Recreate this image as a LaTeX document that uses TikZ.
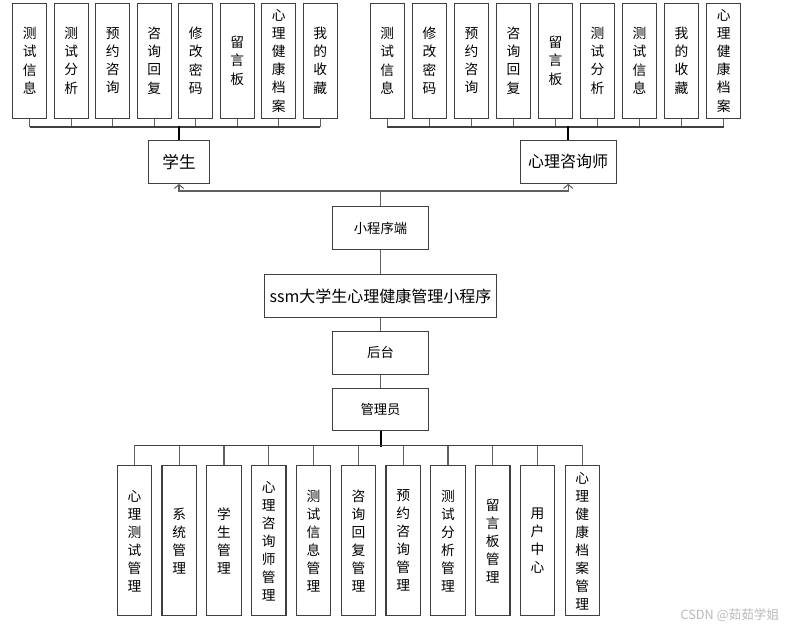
\documentclass[tikz,border=0pt]{standalone}
\usepackage{fontspec}
\setmainfont{Noto Sans CJK SC}
\usetikzlibrary{arrows.meta,calc}
\definecolor{boxc}{HTML}{404040}
\definecolor{linec}{HTML}{606060}
\tikzset{
  box/.style={draw=boxc, line width=0.8pt, fill=white, inner sep=0pt, align=center},
  vbox/.style={box, minimum width=25.5pt, minimum height=86pt, font=\fontsize{10.3pt}{13.6pt}\selectfont},
  bbox/.style={box, minimum width=25.8pt, minimum height=112.3pt, font=\fontsize{10.3pt}{13.5pt}\selectfont},
  conn/.style={draw=linec, line width=0.8pt},
  bus/.style={draw=black!75, line width=1.2pt},
  trunk/.style={draw=black, line width=1.5pt},
  tip/.style={-{Straight Barb[length=3pt,width=7pt]}}
}
\begin{document}
\begin{tikzpicture}[x=0.75pt,y=-0.75pt]
\useasboundingbox (0,0) rectangle (791,629);
% top-left
\node[vbox] (l1) at (29.7,60.7) {测\\试\\信\\息};
\node[vbox] (l2) at (71.3,60.7) {测\\试\\分\\析};
\node[vbox] (l3) at (112.7,60.7) {预\\约\\咨\\询};
\node[vbox] (l4) at (154.3,60.7) {咨\\询\\回\\复};
\node[vbox] (l5) at (195.7,60.7) {修\\改\\密\\码};
\node[vbox] (l6) at (237.2,60.7) {留\\言\\板};
\node[vbox] (l7) at (278.7,60.7) {心\\理\\健\\康\\档\\案};
\node[vbox] (l8) at (320.2,60.7) {我\\的\\收\\藏};
% top-right
\node[vbox] (r1) at (387.3,60.7) {测\\试\\信\\息};
\node[vbox] (r2) at (429.5,60.7) {修\\改\\密\\码};
\node[vbox] (r3) at (471.5,60.7) {预\\约\\咨\\询};
\node[vbox] (r4) at (513.5,60.7) {咨\\询\\回\\复};
\node[vbox] (r5) at (555.5,60.7) {留\\言\\板};
\node[vbox] (r6) at (597.5,60.7) {测\\试\\分\\析};
\node[vbox] (r7) at (639.5,60.7) {测\\试\\信\\息};
\node[vbox] (r8) at (681.5,60.7) {我\\的\\收\\藏};
\node[vbox] (r9) at (723.7,60.7) {心\\理\\健\\康\\档\\案};
% roles
\node[box, minimum width=45.5pt, minimum height=32.25pt, font=\fontsize{12.5pt}{14pt}\selectfont] (stu) at (179,161.8) {学生};
\node[box, minimum width=72.2pt, minimum height=32.25pt, font=\fontsize{12pt}{14pt}\selectfont] (con) at (568.2,161.8) {心理咨询师};
% middle column
\node[box, minimum width=72.3pt, minimum height=32pt, font=\fontsize{10pt}{12pt}\selectfont] (mini) at (380.5,228) {小程序端};
\node[box, minimum width=174.3pt, minimum height=32pt, font=\fontsize{12pt}{14pt}\selectfont] (sys) at (380.5,296) {ssm大学生心理健康管理小程序};
\node[box, minimum width=72.3pt, minimum height=32pt, font=\fontsize{10pt}{12pt}\selectfont] (back) at (380.5,352.8) {后台};
\node[box, minimum width=72.3pt, minimum height=32pt, font=\fontsize{10pt}{12pt}\selectfont] (adm) at (380.5,409.5) {管理员};
% bottom
\node[bbox] (b1) at (134.5,540.8) {心\\理\\测\\试\\管\\理};
\node[bbox] (b2) at (179.2,540.8) {系\\统\\管\\理};
\node[bbox] (b3) at (224,540.8) {学\\生\\管\\理};
\node[bbox] (b4) at (268.8,540.8) {心\\理\\咨\\询\\师\\管\\理};
\node[bbox] (b5) at (313.6,540.8) {测\\试\\信\\息\\管\\理};
\node[bbox] (b6) at (358.4,540.8) {咨\\询\\回\\复\\管\\理};
\node[bbox] (b7) at (403.2,540.8) {预\\约\\咨\\询\\管\\理};
\node[bbox] (b8) at (448,540.8) {测\\试\\分\\析\\管\\理};
\node[bbox] (b9) at (492.8,540.8) {留\\言\\板\\管\\理};
\node[bbox] (b10) at (537.6,540.8) {用\\户\\中\\心};
\node[bbox] (b11) at (582.3,540.8) {心\\理\\健\\康\\档\\案\\管\\理};
% watermark
\node[text=gray!55, font=\fontsize{9.5pt}{11pt}\selectfont, anchor=east] (wm) at (784,615) {CSDN @茹茹学姐};
% top-left bus
\foreach \i in {1,...,8} \draw[conn] (l\i.south) -- ++(0,8.7);
\draw[bus] ($(l1.south)+(0,8.7)$) -- ($(l8.south)+(0,8.7)$);
\draw[trunk] (stu.north) -- ++(0,-13.6);
% top-right bus
\foreach \i in {1,...,9} \draw[conn] (r\i.south) -- ++(0,8.7);
\draw[bus] ($(r1.south)+(0,8.7)$) -- ($(r9.south)+(0,8.7)$);
\draw[trunk] (con.north) -- ++(0,-13.6);
% roles to mini program
\coordinate (j) at (380.5,191);
\draw[conn, tip] (j) -| (stu.south);
\draw[conn, tip] (j) -| (con.south);
\draw[conn] (mini.north) -- (j);
% middle chain
\draw[conn] (mini.south) -- (sys.north);
\draw[conn] (sys.south) -- (back.north);
\draw[conn] (back.south) -- (adm.north);
\draw[trunk] (adm.south) -- ++(0,15.3);
% bottom bus
\foreach \i in {1,...,11} \draw[conn] (b\i.north) -- ++(0,-20);
\draw[bus] ($(b1.north)+(0,-20)$) -- ($(b11.north)+(0,-20)$);
\end{tikzpicture}
\end{document}
